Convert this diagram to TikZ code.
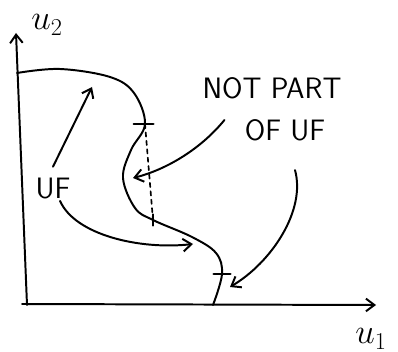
\documentclass[tikz,border=0pt]{standalone}
\usetikzlibrary{arrows.meta}

\tikzset{
  hand/.style={font=\sffamily\fontsize{21}{25}\selectfont,inner sep=1pt},
  axlabel/.style={font=\fontsize{24}{28}\selectfont,inner sep=1pt},
  tickmark/.style={line width=1.6pt},
  gap/.style={dashed,dash pattern=on 3pt off 3pt,line width=1.2pt}
}

\begin{document}
\begin{tikzpicture}[x=0.025cm,y=-0.025cm,>={Straight Barb[length=6pt,width=9pt]},line width=1.4pt,line cap=round]
        \useasboundingbox (0,0) rectangle (398,352);
        % axes
        \coordinate (origin) at (27,305);
        \coordinate (ytop) at (16,33);
        \coordinate (xleft) at (22,304);
        \coordinate (xend) at (376,305);
        \draw[->] (origin) -- (ytop);
        \draw[->] (xleft) -- (xend);
        \node[axlabel] (utwo) at (47,25) {$u_2$};
        \node[axlabel] (uone) at (371,339) {$u_1$};
        % frontier
        \coordinate (tickA) at (145,124);
        \coordinate (footA) at (153,220);
        \coordinate (tickB) at (222,274);
        \draw plot[smooth,tension=0.6] coordinates {(17,73) (60,69) (110,77) (134,93) (tickA) (131,150) (123,178) (135,208) (footA) (192,237) (216,253) (tickB) (213,305)};
        \draw[tickmark] ([xshift=-8pt]tickA) -- ([xshift=6pt]tickA);
        \draw[tickmark] ([xshift=-6pt]tickB) -- ([xshift=6pt]tickB);
        \draw[gap] (tickA) -- (footA);
        \draw[tickmark] ([yshift=4pt]footA) -- ([yshift=-4pt]footA);
        % labels
        \node[hand] (uf) at (53,188) {UF};
        \node[hand] (notA) at (272,88) {NOT PART};
        \node[hand] (notB) at (285,130) {OF UF};
        \coordinate (upaim) at (92,87);
        \coordinate (lowaim) at (193,244);
        \coordinate (hole) at (133,178);
        \coordinate (cutaim) at (230,287);
        \draw[->] ([yshift=6pt]uf.north) -- (upaim);
        \draw[->] ([xshift=5pt]uf.south) .. controls (75,235) and (140,250) .. (lowaim);
        \draw[->] ([shift={(-18,-10)}]notB.west) .. controls (200,150) and (165,170) .. (hole);
        \draw[->] ([shift={(10,27)}]notB.south) .. controls (306,210) and (272,262) .. (cutaim);
\end{tikzpicture}
\end{document}
